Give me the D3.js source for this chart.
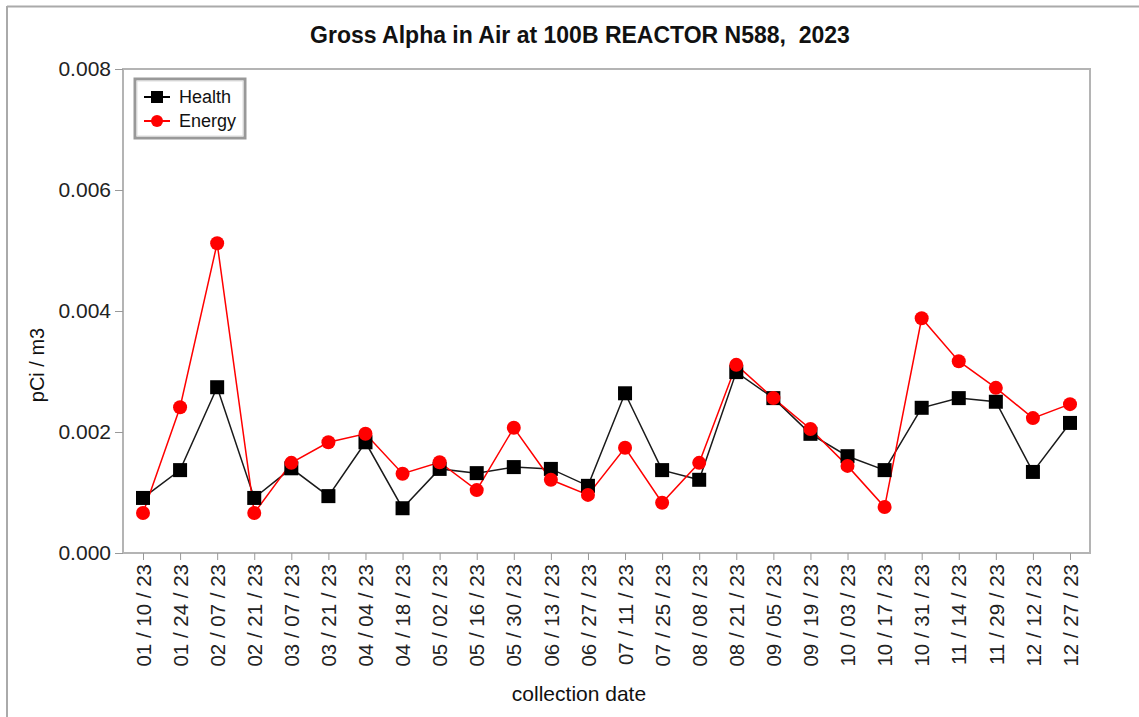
<!DOCTYPE html>
<html>
<head>
<meta charset="utf-8">
<script src="https://cdn.jsdelivr.net/npm/d3@7"></script>
<style>
  body { margin: 0; background: #fff; }
  text { font-family: "Liberation Sans", Arial, sans-serif; fill: #111; white-space: pre; }
</style>
</head>
<body>
<div id="chart"></div>
<script>
const dates = ['01 / 10 / 23', '01 / 24 / 23', '02 / 07 / 23', '02 / 21 / 23', '03 / 07 / 23',
  '03 / 21 / 23', '04 / 04 / 23', '04 / 18 / 23', '05 / 02 / 23', '05 / 16 / 23',
  '05 / 30 / 23', '06 / 13 / 23', '06 / 27 / 23', '07 / 11 / 23', '07 / 25 / 23',
  '08 / 08 / 23', '08 / 21 / 23', '09 / 05 / 23', '09 / 19 / 23', '10 / 03 / 23',
  '10 / 17 / 23', '10 / 31 / 23', '11 / 14 / 23', '11 / 29 / 23', '12 / 12 / 23',
  '12 / 27 / 23']

const health = [0.00091, 0.00137, 0.00274, 0.00091, 0.0014, 0.00094, 0.00183, 0.00074,
  0.00139, 0.00132, 0.00142, 0.00139, 0.00111, 0.00264, 0.00137, 0.00121, 0.00299,
  0.00256, 0.00197, 0.0016, 0.00137, 0.0024, 0.00256, 0.0025, 0.00134, 0.00215]

const energy = [0.00066, 0.00241, 0.00512, 0.00066, 0.00149, 0.00183, 0.00197, 0.00131,
  0.0015, 0.00104, 0.00207, 0.00121, 0.00096, 0.00174, 0.00083, 0.00149, 0.00311,
  0.00256, 0.00205, 0.00144, 0.00076, 0.00388, 0.00317, 0.00273, 0.00223, 0.00246]

const yTicks = [0, 0.002, 0.004, 0.006, 0.008]

const width = 1139
const height = 717
const margin = { top: 69, left: 123, right: 49, bottom: 164 }
const innerW = width - margin.left - margin.right
const innerH = height - margin.top - margin.bottom

const svg = d3
  .select('#chart')
  .append('svg')
  .attr('width', width)
  .attr('height', height)

// outer frame (only top and left edges show)
svg.append('line').attr('x1', 7).attr('x2', width).attr('y1', 6.5).attr('y2', 6.5)
  .attr('stroke', '#aaa').attr('stroke-width', 2)
svg.append('line').attr('x1', 7).attr('x2', 7).attr('y1', 6).attr('y2', height)
  .attr('stroke', '#aaa').attr('stroke-width', 2)

const g = svg.append('g')
  .attr('transform', 'translate(' + margin.left + ',' + margin.top + ')')

const x = d3.scalePoint()
  .domain(dates)
  .range([20, innerW - 20])

const y = d3.scaleLinear()
  .domain([0, 0.008])
  .range([innerH, 0])

// plot frame
g.append('rect')
  .attr('width', innerW)
  .attr('height', innerH)
  .attr('fill', 'none')
  .attr('stroke', '#b4b4b4')
  .attr('stroke-width', 2)

const yAxis = g.append('g')
  .call(d3.axisLeft(y).tickValues(yTicks).tickFormat(d3.format('.3f')).tickSize(8).tickSizeOuter(0))
yAxis.select('.domain').remove()
yAxis.selectAll('line').attr('stroke', '#999')
yAxis.selectAll('text').attr('font-size', 21).attr('x', -12).style('fill', '#222')

const xAxis = g.append('g')
  .attr('transform', 'translate(0,' + innerH + ')')
  .call(d3.axisBottom(x).tickSize(7).tickSizeOuter(0))
xAxis.select('.domain').remove()
xAxis.selectAll('line').attr('stroke', '#999')
xAxis.selectAll('text')
  .attr('font-size', 20.5)
  .attr('transform', 'rotate(-90)')
  .attr('text-anchor', 'end')
  .attr('x', -11)
  .attr('y', 0)
  .attr('dy', '0.35em')
  .style('fill', '#222')

// title & axis labels
svg.append('text')
  .attr('x', 580)
  .attr('y', 43)
  .attr('text-anchor', 'middle')
  .attr('font-size', 23)
  .attr('font-weight', 'bold')
  .text('Gross Alpha in Air at 100B REACTOR N588,  2023')

svg.append('text')
  .attr('x', 579)
  .attr('y', 701)
  .attr('text-anchor', 'middle')
  .attr('font-size', 21)
  .text('collection date')

svg.append('text')
  .attr('transform', 'translate(44,365) rotate(-90)')
  .attr('text-anchor', 'middle')
  .attr('font-size', 20)
  .text('pCi / m3')

const line = d3.line()
  .x((d, i) => x(dates[i]))
  .y(d => y(d))

g.append('path')
  .datum(health)
  .attr('d', line)
  .attr('fill', 'none')
  .attr('stroke', '#1a1a1a')
  .attr('stroke-width', 1.5)

g.append('path')
  .datum(energy)
  .attr('d', line)
  .attr('fill', 'none')
  .attr('stroke', '#ff0000')
  .attr('stroke-width', 1.5)

g.selectAll('.health')
  .data(health)
  .enter()
  .append('rect')
  .attr('class', 'health')
  .attr('x', (d, i) => x(dates[i]) - 7)
  .attr('y', d => y(d) - 7)
  .attr('width', 14)
  .attr('height', 14)
  .attr('fill', '#000')

g.selectAll('.energy')
  .data(energy)
  .enter()
  .append('circle')
  .attr('class', 'energy')
  .attr('cx', (d, i) => x(dates[i]))
  .attr('cy', d => y(d))
  .attr('r', 7)
  .attr('fill', '#ff0000')

// legend
const legend = svg.append('g').attr('transform', 'translate(135,79)')
legend.append('rect')
  .attr('width', 110)
  .attr('height', 59)
  .attr('fill', '#fff')
  .attr('stroke', '#999')
  .attr('stroke-width', 3)
legend.append('rect')
  .attr('x', 2)
  .attr('y', 2)
  .attr('width', 106)
  .attr('height', 55)
  .attr('fill', 'none')
  .attr('stroke', '#ddd')
  .attr('stroke-width', 1)

const items = [
  { name: 'Health', color: '#000', shape: 'square' },
  { name: 'Energy', color: '#ff0000', shape: 'circle' }
]
items.forEach((it, i) => {
  const row = legend.append('g').attr('transform', 'translate(0,' + (18 + i * 24) + ')')
  row.append('line').attr('x1', 9).attr('x2', 35).attr('stroke', it.color).attr('stroke-width', 2)
  if (it.shape === 'square') {
    row.append('rect').attr('x', 16).attr('y', -6).attr('width', 12).attr('height', 12).attr('fill', it.color)
  } else {
    row.append('circle').attr('cx', 22).attr('r', 6).attr('fill', it.color)
  }
  row.append('text')
    .attr('x', 44)
    .attr('dy', '0.35em')
    .attr('font-size', 18)
    .text(it.name)
})
</script>
</body>
</html>
